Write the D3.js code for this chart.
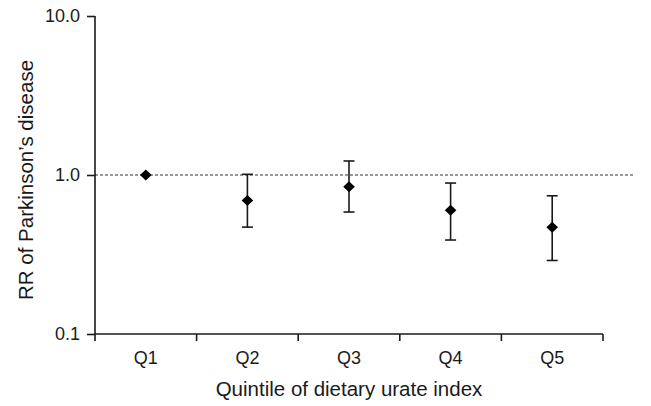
<!DOCTYPE html>
<html><head><meta charset="utf-8">
<script src="https://cdn.jsdelivr.net/npm/d3@7"></script>
<style>body{margin:0;background:#fff}svg{display:block}text{font-family:"Liberation Sans",Arial,sans-serif;fill:#1a1a1a}</style>
</head><body>
<script>
const categories = ["Q1","Q2","Q3","Q4","Q5"];
const rr = [1.0, 0.69, 0.845, 0.60, 0.47];
const lower = [1.0, 0.47, 0.585, 0.39, 0.29];
const upper = [1.0, 1.01, 1.225, 0.89, 0.74];
const yTicks = [0.1, 1.0, 10.0];
const yTickLabels = ["0.1", "1.0", "10.0"];
const refValue = 1.0;

const W = 651, H = 406;
const margin = {left: 95, right: 48, top: 16, bottom: 72};
const svg = d3.select("body").append("svg").attr("width", W).attr("height", H);
const x = d3.scaleBand().domain(categories).range([margin.left, W - margin.right]);
const y = d3.scaleLog().domain([0.1, 10]).range([H - margin.bottom, margin.top]);
const col = "#1a1a1a";

// dashed reference line
svg.append("line").attr("x1", margin.left).attr("x2", 635)
  .attr("y1", y(refValue)).attr("y2", y(refValue))
  .attr("stroke", "#333").attr("stroke-width", 1.1).attr("stroke-dasharray", "3,2");

// y axis
const ya = svg.append("g").attr("transform", `translate(${margin.left},0)`)
  .call(d3.axisLeft(y).tickValues(yTicks).tickFormat((d,i)=>yTickLabels[i]).tickSize(8).tickPadding(7));
ya.select(".domain").attr("d", `M0,${y(10)}V${y(0.1)+7}`).attr("stroke", col).attr("stroke-width", 1.6);
ya.selectAll(".tick line").attr("stroke", col).attr("stroke-width", 1.6);
ya.selectAll(".tick text").attr("font-size", 18).attr("fill", col).style("font-family", "'Liberation Sans',Arial,sans-serif");

// x axis
const xa = svg.append("g").attr("transform", `translate(0,${y(0.1)})`);
xa.append("line").attr("x1", margin.left).attr("x2", W - margin.right).attr("stroke", col).attr("stroke-width", 1.6);
const bounds = categories.map(c => x(c)).concat([x(categories[categories.length-1]) + x.bandwidth()]);
xa.selectAll(".xt").data(bounds.slice(1)).join("line").attr("class","xt")
  .attr("x1", d=>d).attr("x2", d=>d).attr("y1", 0).attr("y2", 7).attr("stroke", col).attr("stroke-width", 1.6);
xa.selectAll(".xl").data(categories).join("text").attr("class","xl")
  .attr("x", d => x(d) + x.bandwidth()/2).attr("y", 30)
  .attr("text-anchor", "middle").attr("font-size", 18).text(d => d);

// axis titles
svg.append("text").attr("x", 349).attr("y", 396)
  .attr("text-anchor", "middle").attr("font-size", 20.5).text("Quintile of dietary urate index");
svg.append("text").attr("transform", `translate(33,180) rotate(-90)`)
  .attr("text-anchor", "middle").attr("font-size", 20.5).text("RR of Parkinson\u2019s disease");

// error bars
const cx = i => x(categories[i]) + x.bandwidth()/2;
const g = svg.append("g");
categories.forEach((c, i) => {
  if (upper[i] !== lower[i]) {
    g.append("line").attr("x1", cx(i)).attr("x2", cx(i)).attr("y1", y(upper[i])).attr("y2", y(lower[i]))
      .attr("stroke", col).attr("stroke-width", 1.6);
    [upper[i], lower[i]].forEach(v => g.append("line").attr("x1", cx(i)-5.5).attr("x2", cx(i)+5.5)
      .attr("y1", y(v)).attr("y2", y(v)).attr("stroke", col).attr("stroke-width", 1.6));
  }
});
// diamonds
g.selectAll(".pt").data(rr).join("path").attr("class","pt")
  .attr("transform", (d,i) => `translate(${cx(i)},${y(d)})`)
  .attr("d", "M0,-5.5L5.8,0L0,5.5L-5.8,0Z").attr("fill", "#000");
</script>
</body></html>
